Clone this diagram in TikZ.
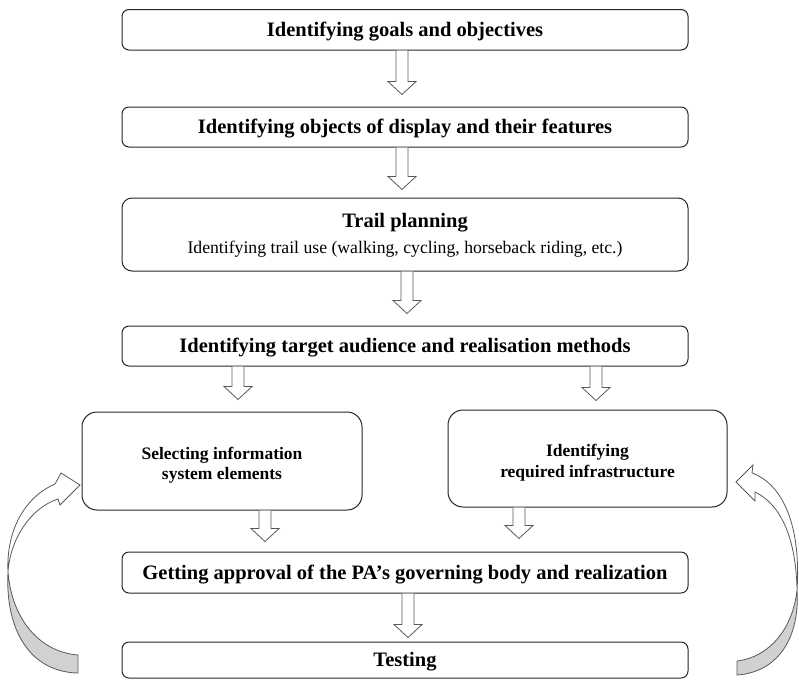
\documentclass[tikz,border=0pt]{standalone}
\usepackage{fontspec}
\setmainfont{Liberation Serif}
\usetikzlibrary{calc}
\newcommand\blockarrow[4]{% #1 = x, #2 = source node, #3 = target node, #4 = gap above target
  \draw[barrow] let \p1=(#2.south), \p2=(#3.north) in
    (#1pt-6pt,\y1) -- (#1pt-6pt,\y2+#4pt+13pt) -- (#1pt-14pt,\y2+#4pt+13pt)
    -- (#1pt,\y2+#4pt) -- (#1pt+14pt,\y2+#4pt+13pt) -- (#1pt+6pt,\y2+#4pt+13pt)
    -- (#1pt+6pt,\y1);}
\begin{document}
\begin{tikzpicture}[x=1pt,y=-1pt,
  box/.style={draw=black!85, line width=1pt, fill=white, inner sep=0pt,
    rounded corners=7pt, align=center},
  mainbox/.style={box, minimum width=566pt, text height=13.5pt, text depth=0pt,
    font=\fontsize{20.5}{24}\selectfont\bfseries},
  sidebox/.style={box, rounded corners=15pt},
  sidetext/.style={inner sep=0pt, align=center, font=\fontsize{17.5}{20.5}\selectfont\bfseries},
  barrow/.style={draw=black!65, line width=0.8pt, fill=white, line join=miter},
  loopline/.style={draw=black!65, line width=0.8pt, line join=miter},
  backside/.style={loopline, fill=black!18},
  frontside/.style={loopline, fill=white}
]
\useasboundingbox (0,0) rectangle (799,680);

% boxes
\node[mainbox, minimum height=40.5pt] (b1) at (405,29.75) {Identifying goals and objectives};
\node[mainbox, minimum height=40pt] (b2) at (405,127) {Identifying objects of display and their features};
\node[box, minimum width=566pt, minimum height=73pt, rounded corners=10pt] (b3) at (405,234.5) {};
\node[anchor=base, inner sep=0pt, font=\fontsize{20.5}{24}\selectfont\bfseries] (t3a) at (405,227) {Trail planning};
\node[anchor=base, inner sep=0pt, font=\fontsize{17.7}{21}\selectfont] (t3b) at (405,253) {Identifying trail use (walking, cycling, horseback riding, etc.)};
\node[mainbox, minimum height=40pt] (b4) at (405,346) {Identifying target audience and realisation methods};
\node[sidebox, minimum width=280pt, minimum height=98pt] (b5) at (222,461) {};
\node[sidetext] (t5) at (222,465) {Selecting information\\system elements};
\node[sidebox, minimum width=279pt, minimum height=97pt] (b6) at (587.5,458.5) {};
\node[sidetext] (t6) at (587.5,462.5) {Identifying\\required infrastructure};
\node[mainbox, minimum height=41pt] (b7) at (405,572.5) {Getting approval of the PA’s governing body and realization};
\node[mainbox, minimum height=36pt] (b8) at (405,660) {Testing};

% block arrows
\blockarrow{402}{b1}{b2}{12}
\blockarrow{402}{b2}{b3}{8}
\blockarrow{407}{b3}{b4}{12}
\blockarrow{238}{b4}{b5}{12}
\blockarrow{596}{b4}{b6}{9}
\blockarrow{265}{b5}{b7}{10}
\blockarrow{519}{b6}{b7}{13}
\blockarrow{408}{b7}{b8}{4}

% left feedback arrow (Testing -> Selecting information system elements)
\path[backside] (78,655) .. controls (40,652) and (12,620) .. (8,572)
  .. controls (5,630) and (30,672) .. (78,673) -- cycle;
\path[frontside] (8,572) .. controls (6,530) and (25,497) .. (55,484)
  -- (61,473) -- (80,485) -- (60,505) -- (58,499)
  .. controls (30,508) and (10,540) .. (8,572) -- cycle;

% right feedback arrow (Testing -> Identifying required infrastructure)
\path[backside] (737,661) .. controls (770,657) and (793,628) .. (797,590)
  .. controls (800,635) and (780,672) .. (737,675) -- cycle;
\path[frontside] (797,590) .. controls (801,530) and (785,485) .. (752,473)
  -- (753,465) -- (736,482) -- (755,501) -- (755,492)
  .. controls (782,505) and (796,540) .. (797,590) -- cycle;
\end{tikzpicture}
\end{document}
